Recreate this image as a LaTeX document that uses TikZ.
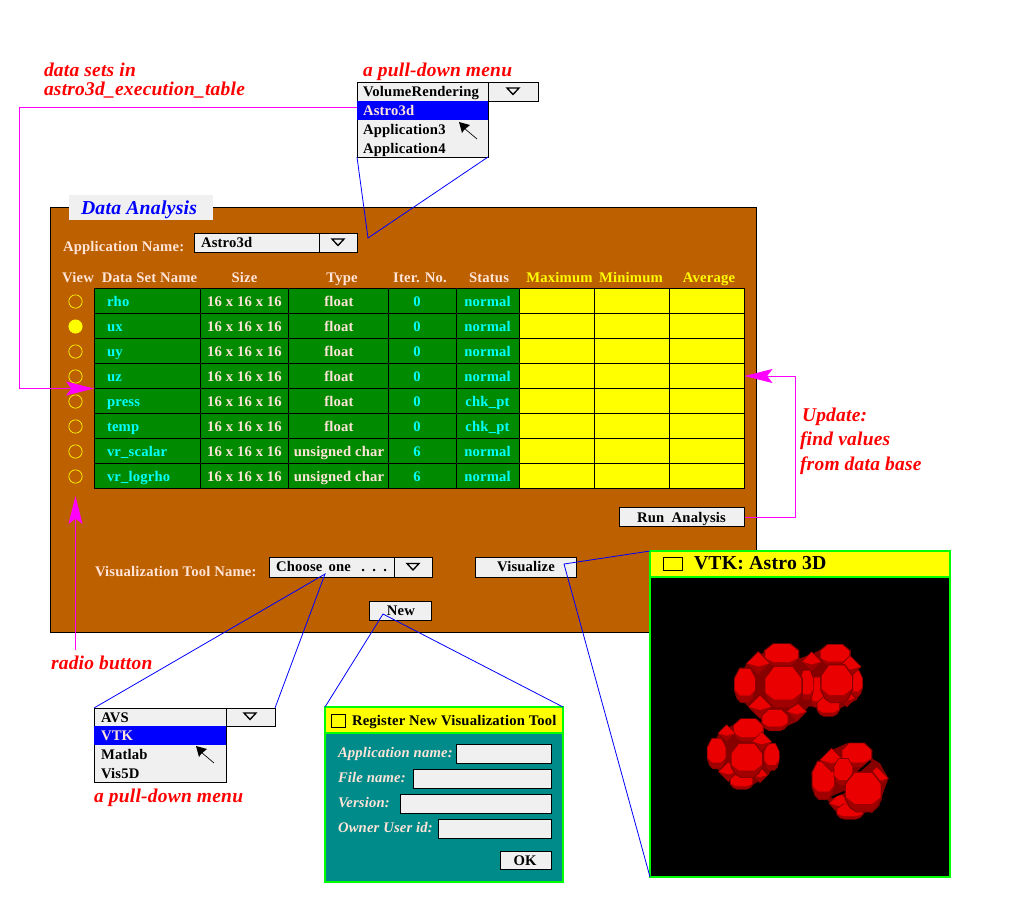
\documentclass[tikz,border=0pt]{standalone}
\usepackage{fontspec}
\setmainfont[LetterSpace=1.2]{Liberation Serif}
\usetikzlibrary{arrows.meta}
\definecolor{panel}{HTML}{BD6000}
\definecolor{tgreen}{HTML}{008A00}
\definecolor{teal2}{HTML}{008B8B}
\definecolor{menugray}{HTML}{F0F0F0}
\definecolor{pinktxt}{HTML}{FFE4D8}
\definecolor{winline}{HTML}{00FF00}
\definecolor{rimred}{HTML}{860000}
\definecolor{lowred}{HTML}{A00000}
\definecolor{facetred}{HTML}{EA0000}
\definecolor{cyan}{HTML}{00FFFF}
\definecolor{magenta}{HTML}{FF00FF}
\definecolor{yellow}{HTML}{FFFF00}
\definecolor{red}{HTML}{FF0000}
\definecolor{blue}{HTML}{0000FF}
\newcommand{\bx}[6]{\node[#2,inner sep=0pt,outer sep=0pt,minimum width={(#5-#3)*0.75pt},minimum height={(#6-#4)*0.75pt}] (#1) at ({(#3+#5)/2},{(#4+#6)/2}) {};}
\newcommand{\ddarrow}[2]{\draw[black,line width=1pt,line join=miter] (#1-6,#2-3) -- (#1+6,#2-3) -- (#1,#2+3.5) -- cycle;}
\newcommand{\cursorat}[2]{\begin{scope}[shift={(#1,#2)}]\fill[black] (0,0) -- (3,11) -- (5,8) -- (11,3) -- cycle;\draw[black,line width=0.5pt] (5,6) -- (18,17);\end{scope}}
\newcommand{\fac}[4]{\begin{scope}[shift={(#1,#2)},xscale=#3*1.08,yscale=#4*1.08]
\fill[rimred] (-1.1,-.42) -- (-.55,-1.08) -- (.55,-1.08) -- (1.1,-.42) -- (1.08,.4) -- (.8,.88) -- (.42,1.1) -- (-.42,1.1) -- (-.8,.88) -- (-1.08,.4) -- cycle;
\fill[lowred] (-1,.3) -- (-.5,.65) -- (.5,.65) -- (1,.3) -- (.75,.8) -- (.4,1.05) -- (-.4,1.05) -- (-.75,.8) -- cycle;
\fill[facetred] (-1,-.4) -- (-.5,-1) -- (.5,-1) -- (1,-.4) -- (1,.3) -- (.5,.65) -- (-.5,.65) -- (-1,.3) -- cycle;
\end{scope}}
\newcommand{\dia}[3]{\begin{scope}[shift={(#1,#2)},scale=#3*1.1]
\fill[rimred] (-1.12,0) -- (0,-1.12) -- (1.12,0) -- (0,1.12) -- cycle;
\fill[lowred] (-1,0) -- (0,.3) -- (1,0) -- (0,1) -- cycle;
\fill[facetred] (-1,0) -- (0,-1) -- (1,0) -- (0,.3) -- cycle;
\end{scope}}
\tikzset{
 x=0.75pt,y=-0.75pt,
 wid/.style={draw=black,line width=0.65pt,fill=menugray},
 sel/.style={draw=none,fill=blue},
 cellg/.style={draw=black,line width=0.65pt,fill=tgreen},
 celly/.style={draw=black,line width=0.65pt,fill=yellow},
 win/.style={draw=winline,line width=1pt},
 t/.style={inner sep=0pt,outer sep=0pt,anchor=base,font=\fontsize{11}{13}\selectfont\bfseries},
 tl/.style={t,anchor=base west},
 note/.style={inner sep=0pt,outer sep=0pt,anchor=base west,text=red,font=\fontsize{14.6}{16}\selectfont\bfseries\itshape},
 flab/.style={tl,text=pinktxt,font=\fontsize{11}{13}\selectfont\bfseries\itshape},
 blueline/.style={blue,line width=0.6pt},
 magline/.style={magenta,line width=0.7pt},
 magarrow/.style={magline,-{Stealth[length=21pt,width=10.5pt,inset=4pt]}},
}
\begin{document}
\begin{tikzpicture}
\fill[white] (0,0) rectangle (1020,901);
\useasboundingbox (0,0) rectangle (1020,901);
% main panel
\bx{panel}{draw=black,line width=0.65pt,fill=panel}{50}{207}{756}{632}
\bx{titlebox}{fill=menugray}{69}{195}{213}{220}
\node[tl,text=blue,font=\fontsize{14.8}{17}\selectfont\bfseries\itshape] (titletxt) at (81,214) {Data Analysis};
\node[tl,text=pinktxt] (appl) at (63,251) {Application Name:};
\bx{appbox}{wid}{194}{233}{319}{252}
\bx{apparrow}{wid}{319}{233}{357}{252}
\node[tl] (apptxt) at (201,247) {Astro3d};
\ddarrow{338}{242}
% headers
\node[t,text=pinktxt] (h0) at (78,282) {View};
\node[t,text=pinktxt] (h1) at (149.5,282) {Data Set Name};
\node[t,text=pinktxt] (h2) at (244.5,282) {Size};
\node[t,text=pinktxt] (h3) at (342,282) {Type};
\node[t,text=pinktxt] (h4) at (420,282) {Iter. No.};
\node[t,text=pinktxt] (h5) at (489,282) {Status};
\node[t,text=yellow] (h6) at (559.5,282) {Maximum};
\node[t,text=yellow] (h7) at (631,282) {Minimum};
\node[t,text=yellow] (h8) at (709,282) {Average};
% table
\foreach \r/\nm/\ty/\it/\st [count=\k from 0] in {1/rho/float/0/normal,2/ux/float/0/normal,3/uy/float/0/normal,4/uz/float/0/normal,5/press/float/0/chk\_pt,6/temp/float/0/chk\_pt,7/vr\_scalar/unsigned char/6/normal,8/vr\_logrho/unsigned char/6/normal}{
 \pgfmathsetmacro{\ya}{288.5+25*\k}
 \pgfmathsetmacro{\yb}{\ya+25}
 \pgfmathsetmacro{\ym}{\ya+18}
 \pgfmathsetmacro{\yc}{\ya+13}
 \bx{c\r1}{cellg}{94}{\ya}{200}{\yb}
 \bx{c\r2}{cellg}{200}{\ya}{288}{\yb}
 \bx{c\r3}{cellg}{288}{\ya}{388}{\yb}
 \bx{c\r4}{cellg}{388}{\ya}{456}{\yb}
 \bx{c\r5}{cellg}{456}{\ya}{519}{\yb}
 \bx{c\r6}{celly}{519}{\ya}{594.5}{\yb}
 \bx{c\r7}{celly}{594.5}{\ya}{669.5}{\yb}
 \bx{c\r8}{celly}{669.5}{\ya}{744.5}{\yb}
 \node[tl,text=cyan] (n\r) at (107,\ym) {\nm};
 \node[t,text=pinktxt] (s\r) at (244.5,\ym) {16 x 16 x 16};
 \node[t,text=pinktxt] (y\r) at (339,\ym) {\ty};
 \node[t,text=cyan] (i\r) at (417,\ym) {\it};
 \node[t,text=cyan] (u\r) at (487.5,\ym) {\st};
 \node[circle,draw=yellow,line width=0.5pt,minimum size=10pt,inner sep=0pt,outer sep=0pt] (rb\r) at (75.5,\yc) {};
}
\fill[yellow] (rb2) circle (5pt);
% buttons
\bx{runbtn}{wid}{619}{507.5}{744.5}{526.5}
\node[t] (runtxt) at (681.5,522) {Run\hspace{0.5em}Analysis};
\node[tl,text=pinktxt] (vtl) at (95,576) {Visualization Tool Name:};
\bx{choose}{wid}{269}{557}{394}{577}
\bx{choosearrow}{wid}{394}{557}{432}{577}
\node[tl] (choosetxt) at (276,571) {Choose\hspace{0.15em} one\hspace{0.45em} .\hspace{0.5em}.\hspace{0.5em}.};
\ddarrow{413}{566.5}
\bx{visbtn}{wid}{475}{557}{576}{577}
\node[t] (vistxt) at (526,571) {Visualize};
\bx{newbtn}{wid}{369}{601}{431}{620}
\node[t] (newtxt) at (401,615) {New};
% top menu
\bx{mtop}{wid}{357}{82}{488}{101}
\bx{mtoparrow}{wid}{488}{82}{538}{101}
\bx{mtopa}{wid}{357}{101}{488}{157}
\bx{mtopsel}{sel}{357.3}{101}{487.7}{120}
\node[tl] (mt0) at (363,96) {VolumeRendering};
\node[tl,text=pinktxt] (mt1) at (363,115) {Astro3d};
\node[tl] (mt2) at (363,134) {Application3};
\node[tl] (mt3) at (363,153) {Application4};
\ddarrow{513}{91}
\cursorat{459}{122}
% bottom menu
\bx{mbot}{wid}{94}{708}{226}{726}
\bx{mbotarrow}{wid}{226}{708}{275}{726}
\bx{mbota}{wid}{94}{726}{226}{782}
\bx{mbotsel}{sel}{94.3}{726}{225.7}{745}
\node[tl] (mb0) at (101,722) {AVS};
\node[tl,text=pinktxt] (mb1) at (101,740) {VTK};
\node[tl] (mb2) at (101,759) {Matlab};
\node[tl] (mb3) at (101,778) {Vis5D};
\ddarrow{250}{716}
\cursorat{196}{746}
% register window
\bx{regbody}{win,fill=teal2}{325}{707}{563}{882}
\bx{regtitle}{win,fill=yellow}{325}{707}{563}{733}
\bx{regicon}{draw=black,line width=0.65pt,fill=yellow}{331}{714}{345}{727}
\node[tl] (regtxt) at (352,725) {Register New Visualization Tool};
\node[flab] (fa) at (338,757) {Application name:};
\node[flab] (fb) at (338,782) {File name:};
\node[flab] (fc) at (338,807) {Version:};
\node[flab] (fd) at (338,832) {Owner User id:};
\bx{fab}{wid}{456}{744}{551}{763}
\bx{fbb}{wid}{413}{769}{551}{788}
\bx{fcb}{wid}{400}{794}{551}{813}
\bx{fdb}{wid}{438}{819}{551}{838}
\bx{okbtn}{wid}{500}{851}{551}{869}
\node[t] (oktxt) at (525,865) {OK};
% VTK window
\bx{vtkbody}{win,fill=black}{650}{551}{950}{877}
\bx{vtktitle}{win,fill=yellow}{650}{551}{950}{577}
\bx{vtkicon}{draw=black,line width=0.65pt,fill=yellow}{663}{557}{682}{570}
\node[tl,font=\fontsize{14.8}{17}\selectfont\bfseries] (vtktxt) at (694,569) {VTK: Astro 3D};
% blobs (coordinates in 1/3 pixel)
\begin{scope}[shift={(700,635)},x=0.25pt,y=-0.25pt]
\fill[rimred] (105,150) -- (140,85) -- (210,40) -- (260,30) -- (300,70) -- (340,55) -- (370,40) -- (420,30) -- (450,70) -- (480,110) -- (490,150) -- (470,195) -- (430,215) -- (390,240) -- (350,215) -- (325,215) -- (290,260) -- (235,285) -- (205,275) -- (150,220) -- (115,185) -- cycle;
\fac{245}{60}{45}{30}\fac{135}{150}{28}{45}\dia{175}{85}{30}\dia{180}{215}{30}\dia{290}{230}{25}\fac{225}{255}{35}{28}
\fac{405}{60}{40}{28}\fac{350}{170}{18}{40}\fac{465}{145}{20}{35}\dia{450}{95}{28}\dia{440}{190}{22}\fac{385}{215}{30}{25}\dia{335}{80}{25}\fac{320}{150}{18}{40}
\fac{250}{155}{50}{55}\fac{410}{145}{42}{50}
\fill[rimred] (25,350) -- (60,290) -- (130,255) -- (175,285) -- (220,330) -- (240,365) -- (205,420) -- (150,455) -- (110,460) -- (60,410) -- (30,380) -- cycle;
\fac{145}{285}{40}{30}\fac{50}{355}{25}{40}\fac{215}{365}{20}{35}\dia{80}{295}{22}\dia{185}{320}{25}\dia{85}{410}{25}\dia{180}{420}{20}\fac{125}{440}{30}{20}\fac{140}{375}{42}{45}
\fill[rimred] (340,420) -- (385,350) -- (440,325) -- (490,330) -- (515,370) -- (540,385) -- (565,430) -- (540,500) -- (500,530) -- (460,550) -- (425,550) -- (395,515) -- (380,490) -- (345,450) -- cycle;
\fac{470}{360}{40}{32}\fac{370}{435}{30}{50}\dia{395}{375}{30}\fac{430}{410}{25}{35}\dia{530}{430}{30}\dia{515}{510}{20}\dia{420}{505}{28}\fac{450}{530}{35}{20}
\draw[black,line width=1.6pt] (395,487) -- (440,468);
\draw[black,line width=1.6pt] (470,415) -- (512,378);
\fac{490}{470}{48}{52}
\end{scope}
% notes
\node[note] (n1) at (44,76) {data sets in};
\node[note] (n2) at (44,95) {astro3d\_execution\_table};
\node[note] (n3) at (363,76) {a pull-down menu};
\node[note] (n4) at (94,802) {a pull-down menu};
\node[note] (n5) at (51,669) {radio button};
\node[note] (n6) at (802,421) {Update:};
\node[note] (n7) at (800,445) {find values};
\node[note] (n8) at (800,470) {from data base};
% connector anchors
\coordinate (apex1) at (368,238);
\coordinate (apex2) at (325,574);
\coordinate (apex3) at (383,614);
\coordinate (apex4) at (564,564);
\coordinate (mc1) at (19,107);
\coordinate (mc2) at (19,388.5);
\coordinate (mc3) at (795,517);
\coordinate (mc4) at (795,376);
\coordinate (rstart) at (75.5,650);
\coordinate (rtip) at (75.5,496);
% blue connectors
\draw[blueline] (mtopa.south west) -- (apex1) -- (mtopa.south east);
\draw[blueline] (mbot.north west) -- (apex2) -- (mbotarrow.north east);
\draw[blueline] (regtitle.north west) -- (apex3) -- (regtitle.north east);
\draw[blueline] (vtktitle.north west) -- (apex4) -- (vtkbody.south west);
% magenta connectors
\draw[magline] (mtopa.west |- mc1) -- (mc1) -- (mc2);
\draw[magarrow] (mc2) -- (c41.south west);
\draw[magline] (runbtn.east) -- (mc3) -- (mc4);
\draw[magarrow] (mc4) -- (c48.east);
\draw[magarrow] (rstart) -- (rtip);
\end{tikzpicture}
\end{document}
